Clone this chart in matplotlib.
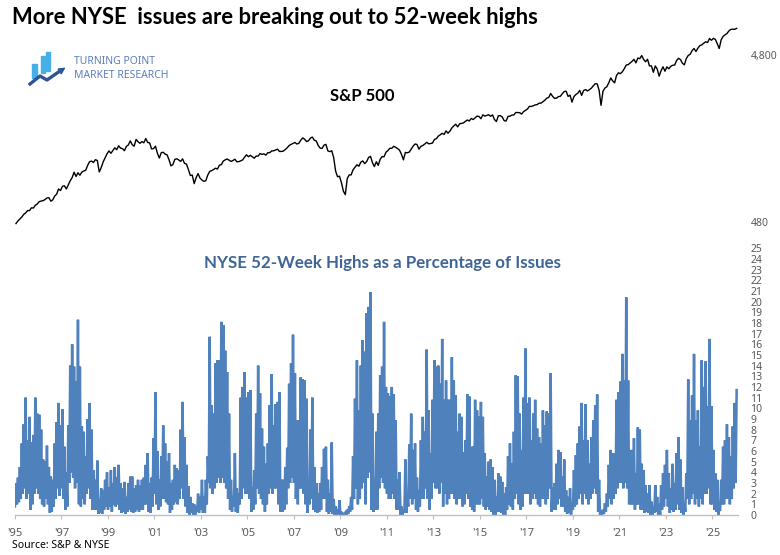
import numpy as np
import matplotlib
matplotlib.use("Agg")
import matplotlib.pyplot as plt
from matplotlib.patches import Rectangle, FancyArrowPatch
from matplotlib.ticker import FixedLocator, FuncFormatter, NullLocator

# ------------------------------------------------------------
# data (monthly, Jan 1995 .. Jan 2026)
# ------------------------------------------------------------
start_year = 1995

# S&P 500 monthly level
spx = [
    470, 487, 500, 514, 533, 544, 562, 562, 584, 582, 605, 616,          # 1995
    636, 640, 645, 654, 669, 671, 640, 652, 687, 705, 757, 741,          # 1996
    786, 791, 757, 801, 848, 885, 954, 899, 947, 915, 955, 970,          # 1997
    980, 1049, 1102, 1112, 1091, 1134, 1121, 957, 1017, 1099, 1164, 1229,  # 1998
    1280, 1238, 1286, 1335, 1302, 1373, 1329, 1320, 1283, 1363, 1389, 1469,  # 1999
    1394, 1366, 1499, 1452, 1421, 1455, 1431, 1518, 1437, 1429, 1315, 1320,  # 2000
    1366, 1240, 1160, 1249, 1256, 1224, 1211, 1134, 1041, 1060, 1139, 1148,  # 2001
    1130, 1107, 1147, 1077, 1067, 990, 912, 916, 815, 886, 936, 880,     # 2002
    856, 841, 848, 917, 964, 975, 990, 1008, 996, 1051, 1058, 1112,      # 2003
    1131, 1145, 1126, 1107, 1121, 1141, 1102, 1104, 1115, 1130, 1174, 1212,  # 2004
    1181, 1204, 1181, 1157, 1192, 1191, 1234, 1220, 1229, 1207, 1249, 1248,  # 2005
    1280, 1281, 1295, 1311, 1270, 1270, 1277, 1304, 1336, 1378, 1401, 1418,  # 2006
    1438, 1407, 1421, 1482, 1531, 1503, 1455, 1474, 1527, 1549, 1481, 1468,  # 2007
    1379, 1331, 1323, 1386, 1400, 1280, 1267, 1283, 1166, 969, 896, 903,  # 2008
    826, 735, 700, 873, 919, 919, 987, 1021, 1057, 1036, 1096, 1115,     # 2009
    1074, 1104, 1169, 1187, 1089, 1031, 1102, 1049, 1141, 1183, 1181, 1258,  # 2010
    1286, 1327, 1326, 1364, 1345, 1321, 1292, 1219, 1131, 1253, 1247, 1258,  # 2011
    1312, 1366, 1408, 1398, 1310, 1362, 1379, 1407, 1441, 1412, 1416, 1426,  # 2012
    1498, 1515, 1569, 1598, 1631, 1606, 1686, 1633, 1682, 1757, 1806, 1848,  # 2013
    1783, 1859, 1872, 1884, 1924, 1960, 1931, 2003, 1972, 2018, 2068, 2059,  # 2014
    1995, 2105, 2068, 2086, 2107, 2063, 2104, 1972, 1920, 2079, 2080, 2044,  # 2015
    1940, 1932, 2060, 2065, 2097, 2099, 2174, 2171, 2168, 2126, 2199, 2239,  # 2016
    2279, 2364, 2363, 2384, 2412, 2423, 2470, 2472, 2519, 2575, 2648, 2674,  # 2017
    2824, 2714, 2641, 2648, 2705, 2718, 2816, 2902, 2914, 2712, 2760, 2507,  # 2018
    2704, 2784, 2834, 2946, 2752, 2942, 2980, 2926, 2977, 3038, 3141, 3231,  # 2019
    3226, 2954, 2400, 2912, 3044, 3100, 3271, 3500, 3363, 3270, 3622, 3756,  # 2020
    3714, 3811, 3973, 4181, 4204, 4298, 4395, 4523, 4308, 4605, 4567, 4766,  # 2021
    4516, 4374, 4530, 4132, 4132, 3785, 4130, 3955, 3586, 3872, 4080, 3840,  # 2022
    4077, 3970, 4109, 4169, 4180, 4450, 4589, 4508, 4288, 4194, 4568, 4770,  # 2023
    4846, 5096, 5254, 5036, 5278, 5460, 5522, 5648, 5762, 5705, 6032, 5882,  # 2024
    6041, 5955, 5612, 5250, 5912, 6205, 6339, 6460, 6688, 6840, 6849, 6845,  # 2025
    6930,                                                                # 2026
]

# NYSE 52-week highs as % of issues: monthly peak and trough
nyse_high = [
    3.0, 3.5, 4.5, 6.7, 8.5, 11.0, 7.0, 9.2, 6.8, 7.5, 11.0, 9.5,       # 1995
    9.4, 8.0, 5.2, 5.0, 6.5, 4.5, 3.6, 3.3, 6.7, 8.7, 10.5, 8.4,        # 1996
    9.9, 6.4, 4.0, 8.4, 14.0, 16.0, 13.9, 12.5, 18.3, 13.9, 8.3, 7.8,   # 1997
    5.5, 9.0, 10.5, 8.0, 4.2, 3.3, 5.1, 1.5, 2.5, 2.3, 3.3, 4.0,        # 1998
    2.6, 4.2, 3.0, 4.5, 3.5, 4.7, 3.0, 2.5, 3.1, 1.7, 3.0, 3.6,         # 1999
    3.6, 2.5, 2.8, 3.3, 2.8, 3.3, 3.5, 4.7, 5.8, 3.0, 3.5, 7.2,         # 2000
    11.5, 6.0, 3.3, 5.5, 8.4, 6.7, 5.0, 5.8, 3.0, 3.3, 4.7, 4.4,        # 2001
    4.2, 8.0, 10.6, 7.3, 4.7, 2.7, 1.7, 1.1, 1.0, 0.8, 2.0, 1.7,        # 2002
    3.3, 1.7, 3.3, 5.5, 16.7, 10.3, 9.5, 14.2, 14.5, 14.5, 18.1, 17.8,  # 2003
    15.4, 13.4, 9.5, 3.3, 1.7, 5.8, 2.5, 2.0, 11.0, 12.0, 13.4, 11.0,   # 2004
    11.5, 11.7, 2.6, 4.2, 9.5, 14.0, 11.4, 8.1, 6.4, 4.8, 6.7, 10.3,    # 2005
    13.2, 8.4, 10.4, 10.6, 11.5, 3.3, 3.3, 4.5, 6.3, 12.3, 14.2, 16.9,  # 2006
    13.3, 8.9, 8.9, 12.9, 12.7, 12.6, 10.9, 2.0, 8.0, 11.0, 4.5, 3.0,   # 2007
    2.0, 3.0, 4.5, 6.2, 6.4, 3.3, 2.0, 6.8, 1.5, 0.8, 0.5, 1.4,         # 2008
    0.3, 0.1, 0.2, 0.5, 0.8, 1.7, 5.5, 10.9, 14.5, 9.8, 14.0, 16.4,     # 2009
    15.3, 18.9, 19.5, 20.9, 9.5, 3.3, 7.8, 9.5, 13.1, 13.9, 18.1, 12.0, # 2010
    11.4, 11.1, 12.0, 11.3, 8.9, 3.3, 4.0, 0.8, 0.5, 5.2, 1.7, 6.6,     # 2011
    9.5, 6.1, 6.7, 3.5, 2.3, 7.0, 9.2, 7.8, 15.5, 9.8, 5.8, 10.8,       # 2012
    14.5, 13.9, 14.0, 12.3, 16.5, 10.8, 12.6, 10.8, 10.8, 14.8, 12.6, 11.2,  # 2013
    7.8, 9.5, 9.2, 5.9, 7.0, 11.3, 11.1, 6.4, 6.4, 10.8, 9.8, 9.2,      # 2014
    10.6, 9.2, 5.8, 3.6, 5.0, 5.2, 4.5, 3.3, 1.7, 3.9, 3.6, 3.1,        # 2015
    2.0, 2.6, 5.5, 6.7, 4.8, 7.8, 13.1, 13.0, 9.5, 6.1, 11.0, 15.6,     # 2016
    10.5, 11.0, 7.0, 9.5, 10.8, 8.1, 7.3, 6.7, 9.8, 8.4, 9.7, 9.5,      # 2017
    13.3, 2.6, 3.0, 4.8, 6.1, 5.9, 3.6, 5.2, 2.3, 1.7, 2.5, 1.0,        # 2018
    4.2, 5.6, 6.7, 8.3, 10.5, 7.0, 10.4, 7.0, 4.8, 7.3, 8.9, 10.3,      # 2019
    11.3, 3.3, 0.2, 0.5, 1.1, 2.0, 4.7, 6.1, 5.8, 5.8, 10.8, 11.5,      # 2020
    12.5, 15.1, 12.6, 20.4, 12.6, 6.1, 6.1, 7.2, 3.9, 8.2, 8.0, 4.8,    # 2021
    4.2, 2.8, 2.0, 2.8, 1.25, 0.8, 2.8, 1.7, 1.1, 2.8, 3.9, 4.7,        # 2022
    6.1, 3.9, 2.5, 4.8, 3.0, 5.8, 7.3, 5.2, 2.6, 1.1, 3.9, 12.7,        # 2023
    8.9, 11.2, 15.1, 8.9, 9.8, 6.4, 14.5, 12.0, 14.4, 10.2, 16.5, 10.2, # 2024
    6.1, 3.9, 3.3, 0.5, 3.3, 6.4, 7.0, 8.5, 7.3, 5.5, 8.3, 10.5,        # 2025
    11.7,                                                               # 2026
]
nyse_low = [
    0.8, 1.0, 1.2, 1.5, 2.0, 2.5, 1.5, 2.0, 0.5, 1.0, 2.0, 2.5,         # 1995
    2.0, 1.5, 1.0, 0.8, 1.5, 1.0, 0.2, 0.3, 0.8, 1.5, 2.5, 1.8,         # 1996
    2.5, 1.5, 0.5, 0.8, 3.0, 4.0, 3.5, 2.5, 3.0, 1.0, 0.8, 1.5,         # 1997
    1.0, 2.0, 2.5, 1.5, 0.5, 0.5, 0.5, 0.1, 0.2, 0.1, 0.5, 0.8,         # 1998
    0.5, 0.8, 0.3, 1.0, 0.8, 1.0, 0.5, 0.2, 0.3, 0.1, 0.3, 0.5,         # 1999
    0.3, 0.2, 0.3, 0.5, 0.3, 0.5, 0.5, 1.0, 1.0, 0.3, 0.2, 0.8,         # 2000
    2.0, 1.0, 0.5, 0.8, 1.5, 1.5, 1.2, 1.0, 0.2, 0.5, 1.0, 1.2,         # 2001
    1.0, 1.5, 2.5, 1.5, 0.8, 0.2, 0.0, 0.2, 0.0, 0.0, 0.3, 0.2,         # 2002
    0.5, 0.2, 0.2, 1.0, 3.0, 2.5, 2.0, 2.5, 3.0, 3.5, 3.0, 3.5,         # 2003
    3.0, 2.5, 1.5, 0.5, 0.3, 0.8, 0.3, 0.2, 1.0, 1.5, 2.5, 2.0,         # 2004
    2.0, 1.5, 0.3, 0.5, 1.0, 2.5, 2.0, 1.5, 1.0, 0.3, 1.0, 2.0,         # 2005
    2.5, 2.0, 2.5, 2.5, 1.0, 0.3, 0.3, 0.5, 1.0, 2.5, 3.0, 3.5,         # 2006
    3.0, 1.5, 1.0, 2.5, 2.5, 2.0, 1.0, 0.2, 1.0, 1.5, 0.5, 0.3,         # 2007
    0.2, 0.3, 0.5, 1.5, 1.5, 0.3, 0.1, 0.3, 0.1, 0.0, 0.0, 0.0,         # 2008
    0.0, 0.0, 0.0, 0.0, 0.1, 0.3, 0.5, 1.5, 2.5, 1.0, 1.5, 2.5,         # 2009
    3.0, 1.0, 3.5, 4.0, 0.5, 0.3, 0.5, 0.5, 2.5, 3.5, 3.0, 2.5,         # 2010
    2.0, 1.5, 1.5, 2.0, 1.5, 0.5, 0.5, 0.0, 0.0, 0.2, 0.2, 0.8,         # 2011
    1.5, 1.0, 1.5, 0.5, 0.3, 0.8, 1.5, 1.5, 2.5, 1.5, 0.5, 1.5,         # 2012
    3.0, 2.5, 2.5, 2.0, 3.0, 0.8, 2.0, 1.0, 1.5, 2.0, 2.0, 1.5,         # 2013
    1.0, 1.5, 1.5, 0.8, 1.0, 2.0, 1.5, 0.8, 0.5, 0.3, 1.0, 1.0,         # 2014
    1.0, 1.5, 0.8, 0.5, 0.8, 0.5, 0.3, 0.0, 0.0, 0.3, 0.3, 0.2,         # 2015
    0.0, 0.0, 0.5, 1.0, 0.8, 0.5, 1.5, 2.0, 1.0, 0.5, 0.8, 2.0,         # 2016
    2.0, 2.0, 1.0, 1.5, 2.0, 1.5, 1.0, 0.8, 1.5, 1.5, 1.0, 1.5,         # 2017
    2.5, 0.3, 0.5, 0.5, 1.0, 1.5, 0.8, 0.8, 0.3, 0.1, 0.2, 0.0,         # 2018
    0.5, 0.8, 1.0, 1.5, 2.0, 1.0, 2.0, 1.5, 1.0, 1.5, 2.0, 2.5,         # 2019
    2.0, 0.3, 0.0, 0.0, 0.1, 0.3, 0.8, 1.5, 1.0, 1.5, 2.0, 2.5,         # 2020
    3.0, 3.0, 2.5, 3.0, 2.5, 1.0, 1.0, 1.0, 0.5, 1.0, 1.0, 0.5,         # 2021
    0.5, 0.2, 0.3, 0.2, 0.0, 0.0, 0.2, 0.3, 0.0, 0.0, 0.5, 0.8,         # 2022
    1.5, 0.8, 0.2, 0.5, 0.3, 0.5, 1.0, 0.5, 0.2, 0.0, 0.3, 1.5,         # 2023
    1.0, 1.5, 2.0, 1.0, 1.5, 0.8, 1.5, 1.0, 2.0, 2.0, 2.5, 1.0,         # 2024
    1.0, 0.5, 0.3, 0.0, 0.5, 1.0, 1.0, 1.5, 1.5, 1.0, 1.5, 2.5,         # 2025
    3.0,                                                                # 2026
]

year_ticks = list(range(1995, 2026, 2))
spx_ticks = [480, 4800]
pct_ticks = list(range(0, 26))

# ------------------------------------------------------------
# figure
# ------------------------------------------------------------
W, H = 780, 555
fig = plt.figure(figsize=(W / 100, H / 100), dpi=100)

TICK_COLOR = "#595959"
BLUE = "#4f81bd"
tick_font = "Noto Sans"
head_font = "Lato"

x0, x1 = 1995.0, 2026.1
px_left, px_right = 15, 738


def px_box(left, top, right, bottom):
    return [left / W, 1 - bottom / H, (right - left) / W, (bottom - top) / H]


ax_top = fig.add_axes(px_box(px_left, 20, px_right, 230))
ax_bot = fig.add_axes(px_box(px_left, 245, px_right, 515))

# S&P 500 line
months = np.arange(len(spx))
x_spx = start_year + (months + 0.5) / 12
ax_top.plot(x_spx, spx, color="black", lw=1.0)
ax_top.set_yscale("log")
ax_top.set_ylim(430, 7780)
ax_top.set_xlim(x0, x1)
ax_top.yaxis.tick_right()
ax_top.yaxis.set_major_locator(FixedLocator(spx_ticks))
ax_top.yaxis.set_minor_locator(NullLocator())
ax_top.yaxis.set_major_formatter(FuncFormatter(lambda v, p: f"{v:,.0f}"))
ax_top.tick_params(axis="y", length=0, pad=9, labelsize=7.5, labelcolor=TICK_COLOR)
ax_top.set_xticks([])
for s in ax_top.spines.values():
    s.set_visible(False)
for lab in ax_top.get_yticklabels():
    lab.set_family(tick_font)

# NYSE highs: zig-zag between monthly trough and peak
xs, ys = [], []
for i, (lo, hi) in enumerate(zip(nyse_low, nyse_high)):
    xs += [start_year + i / 12, start_year + (i + 0.5) / 12]
    ys += [lo, hi]
ax_bot.plot(xs, ys, color=BLUE, lw=1.8, solid_joinstyle="miter")
ax_bot.set_xlim(x0, x1)
ax_bot.set_ylim(0, 25.3)
ax_bot.yaxis.tick_right()
ax_bot.set_yticks(pct_ticks)
ax_bot.tick_params(axis="y", length=0, pad=9, labelsize=7.5, labelcolor=TICK_COLOR)
ax_bot.set_xticks(year_ticks)
ax_bot.set_xticklabels([f"'{y % 100:02d}" for y in year_ticks])
ax_bot.tick_params(axis="x", length=3, width=0.8, color="#bfbfbf", pad=6,
                   labelsize=8, labelcolor=TICK_COLOR)
for s in ["top", "left", "right"]:
    ax_bot.spines[s].set_visible(False)
ax_bot.spines["bottom"].set_color("#bfbfbf")
ax_bot.spines["bottom"].set_linewidth(1.0)
for lab in ax_bot.get_yticklabels() + ax_bot.get_xticklabels():
    lab.set_family(tick_font)

# titles
fig.text(12 / W, 1 - 17 / H, "More NYSE  issues are breaking out to 52-week highs",
         family=head_font, weight="bold", fontsize=15.8, va="center", ha="left")
fig.text(362 / W, 1 - 96 / H, "S&P 500", family=head_font, weight="bold",
         fontsize=12, va="center", ha="center")
fig.text(383 / W, 1 - 263 / H, "NYSE 52-Week Highs as a Percentage of Issues",
         family=head_font, weight="bold", fontsize=12.2, color="#3e6596",
         va="center", ha="center")
fig.text(12 / W, 1 - 546 / H, "Source: S&P & NYSE", family=tick_font,
         fontsize=7.5, va="center", ha="left")

# logo
LOGO_LIGHT = "#45b0e8"
LOGO_DARK = "#2f5597"
for (l, t, r, b) in [(32, 64, 37, 78), (41, 56, 45, 73), (46, 52, 50, 71)]:
    fig.patches.append(Rectangle((l / W, 1 - b / H), (r - l) / W, (b - t) / H,
                                 transform=fig.transFigure, color=LOGO_LIGHT))
zig = [(30, 84), (40, 76), (47, 80), (60, 71)]
fig.lines.append(plt.Line2D([p[0] / W for p in zig], [1 - p[1] / H for p in zig],
                            transform=fig.transFigure, color=LOGO_DARK, lw=2.4))
fig.patches.append(FancyArrowPatch((58 / W, 1 - 72.5 / H), (68 / W, 1 - 66 / H),
                                   transform=fig.transFigure, color=LOGO_DARK,
                                   arrowstyle="-|>", mutation_scale=10, lw=1))
fig.text(74 / W, 1 - 62 / H, "TURNING POINT", family=tick_font, fontsize=7.5,
         color="#5b7ec0", va="center", ha="left")
fig.text(74 / W, 1 - 76 / H, "MARKET RESEARCH", family=tick_font, fontsize=7.5,
         color="#5b7ec0", va="center", ha="left")

fig.savefig("out.png", dpi=100)
